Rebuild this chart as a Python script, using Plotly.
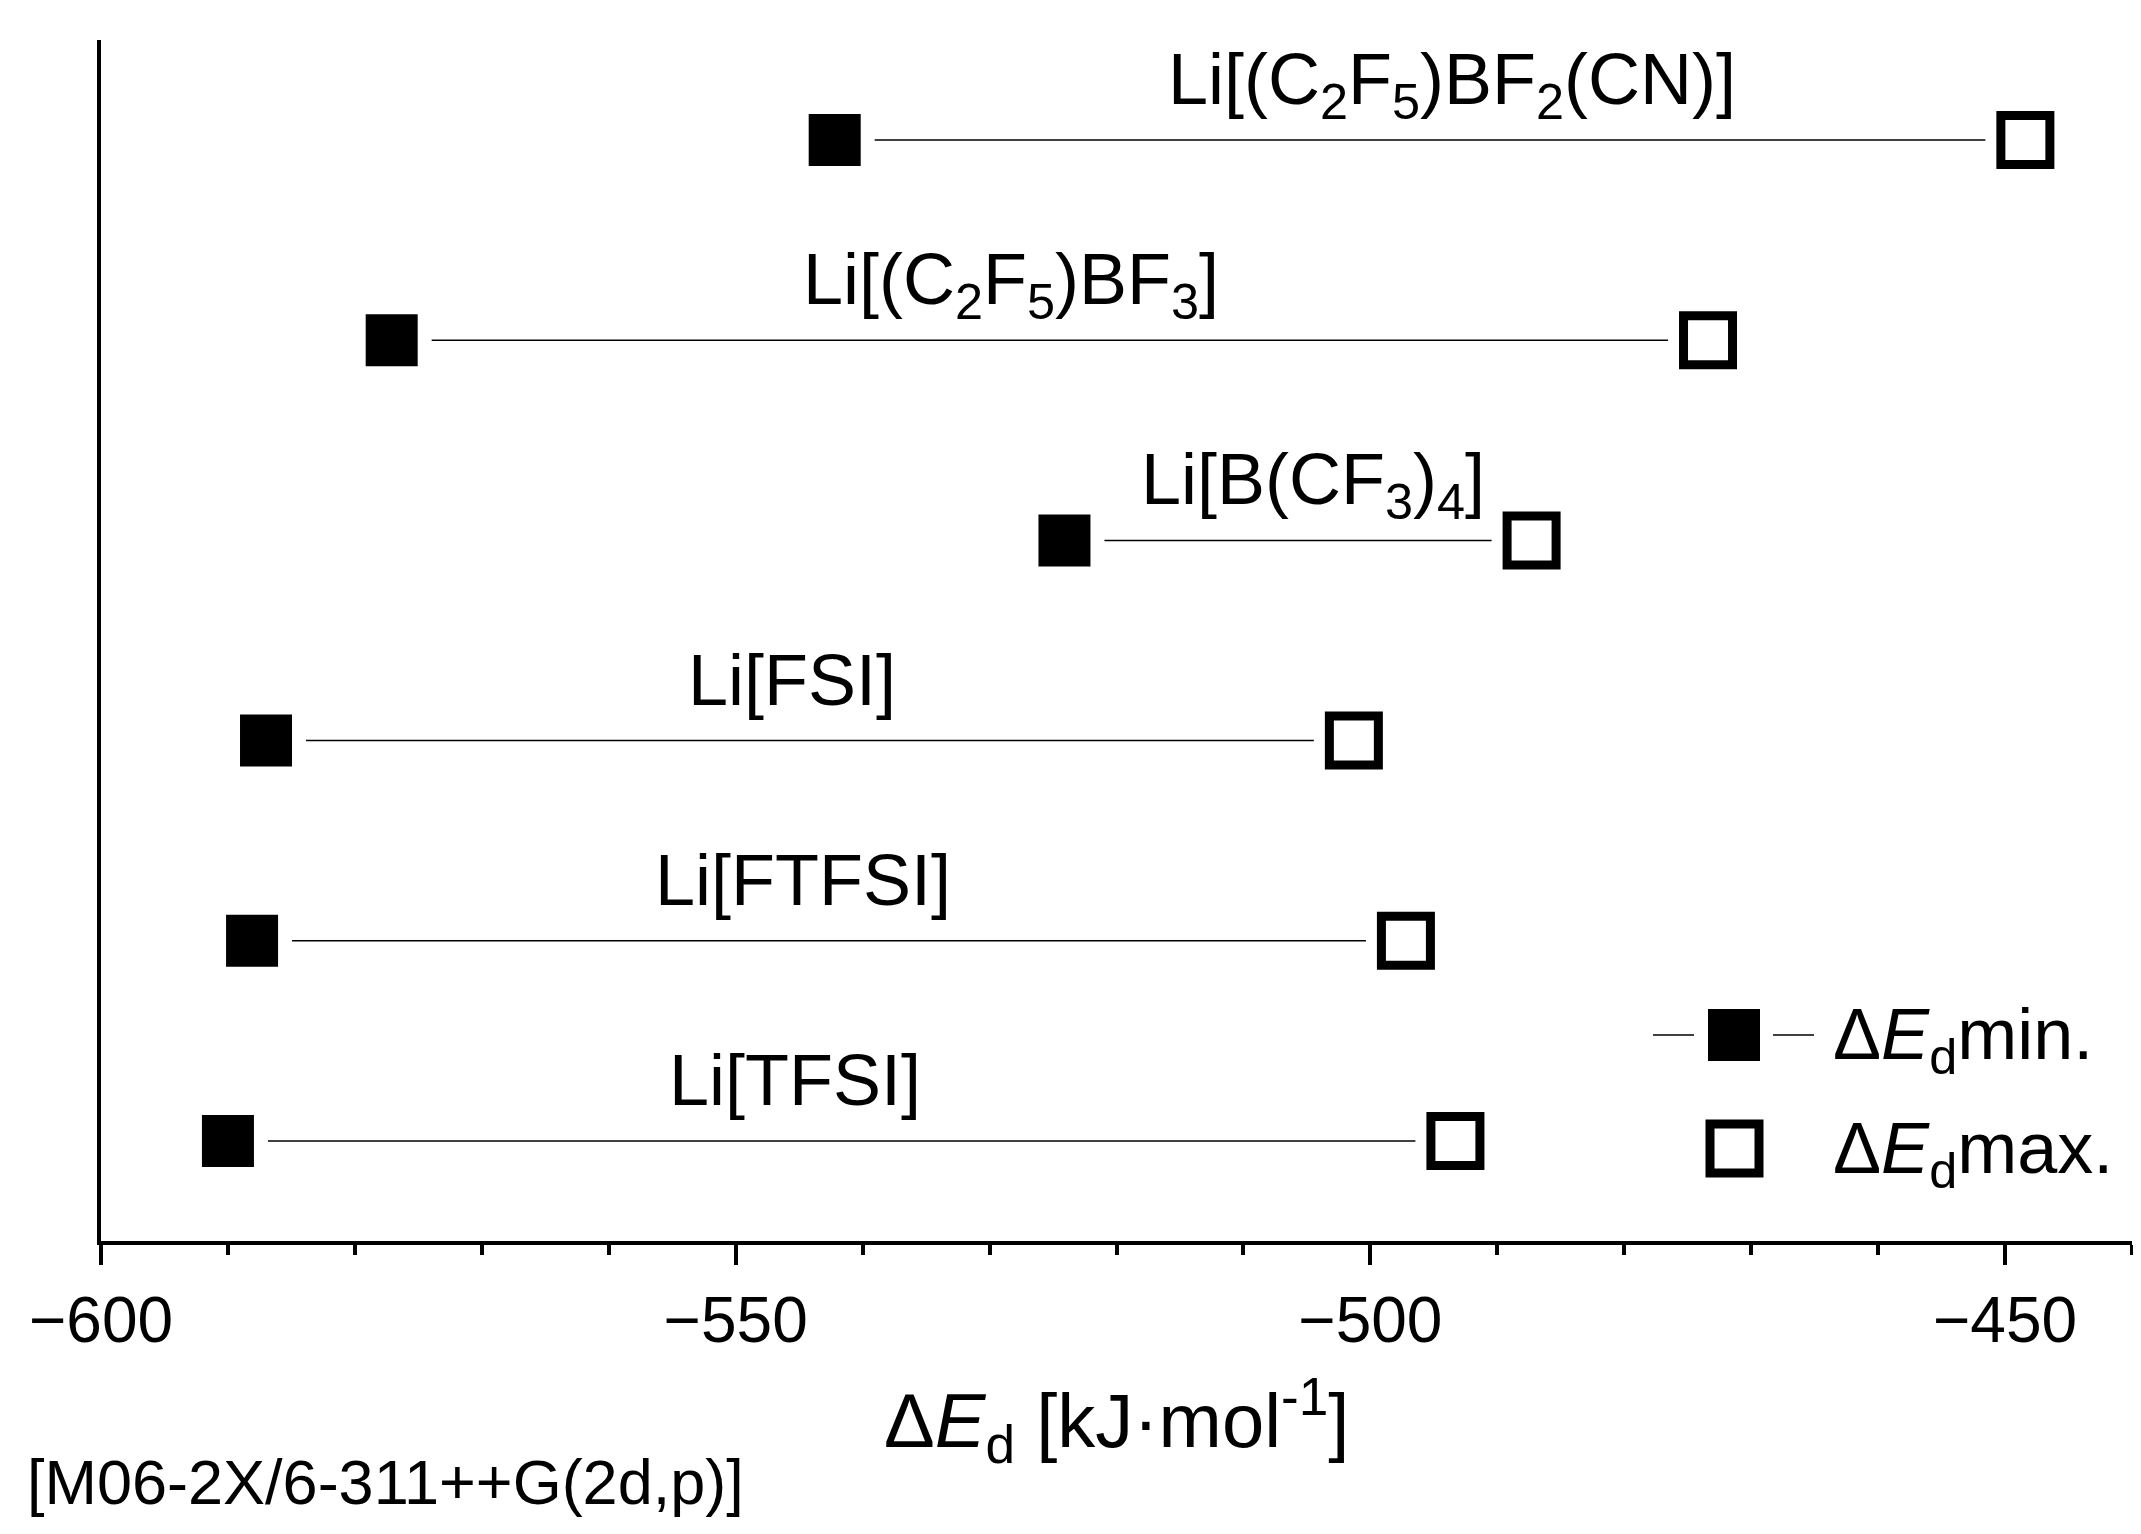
import plotly.graph_objects as go

# dissociation energies, kJ/mol (bottom row first)
salts = ["Li[TFSI]", "Li[FTFSI]", "Li[FSI]",
         "Li[B(CF<sub>3</sub>)<sub>4</sub>]",
         "Li[(C<sub>2</sub>F<sub>5</sub>)BF<sub>3</sub>]",
         "Li[(C<sub>2</sub>F<sub>5</sub>)BF<sub>2</sub>(CN)]"]
ed_min = [-590.0, -588.1, -587.0, -524.1, -577.1, -542.2]
ed_max = [-493.3, -497.2, -501.3, -487.3, -473.4, -448.4]

rows = list(range(1, len(salts) + 1))

# where the salt names sit (x, data units)
label_x = [-545.3, -544.7, -545.6, -504.5, -528.3, -493.6]

FONT = "Liberation Sans, Arial, sans-serif"
W, H = 2141, 1534
L, R, T, B = 93, 17, 32, 301
pw, ph = W - L - R, H - T - B


def px(x):
    return (x - L) / pw


def py(y):
    return (H - B - y) / ph


fig = go.Figure()

# thin connecting line per salt
lx, ly = [], []
for a, b, r in zip(ed_min, ed_max, rows):
    lx += [a, b, None]
    ly += [r, r, None]
fig.add_trace(go.Scatter(x=lx, y=ly, mode="lines",
                         line=dict(color="black", width=1.5), hoverinfo="skip"))
# white squares under the symbols -> small gap between line and symbol
fig.add_trace(go.Scatter(x=ed_min + ed_max, y=rows + rows, mode="markers",
                         marker=dict(symbol="square", size=80, color="white"),
                         hoverinfo="skip"))
fig.add_trace(go.Scatter(x=ed_min, y=rows, mode="markers", name="min",
                         marker=dict(symbol="square", size=52, color="black")))
fig.add_trace(go.Scatter(x=ed_max, y=rows, mode="markers", name="max",
                         marker=dict(symbol="square-open", size=49, color="black",
                                     line=dict(width=9, color="black"))))

for name, xl, r in zip(salts, label_x, rows):
    fig.add_annotation(x=xl, y=r, text=name, showarrow=False, xanchor="center",
                       yanchor="top", yshift=103, font=dict(size=72, color="black"))

# hand-made legend
fig.add_shape(type="line", xref="paper", yref="paper", x0=px(1645), x1=px(1686),
              y0=py(1027), y1=py(1027), line=dict(color="black", width=1.5))
fig.add_shape(type="line", xref="paper", yref="paper", x0=px(1765), x1=px(1806),
              y0=py(1027), y1=py(1027), line=dict(color="black", width=1.5))
fig.add_shape(type="rect", xref="paper", yref="paper", x0=px(1700), x1=px(1752),
              y0=py(1053), y1=py(1001), fillcolor="black", line=dict(width=0))
fig.add_shape(type="rect", xref="paper", yref="paper", x0=px(1702), x1=px(1751),
              y0=py(1165), y1=py(1116), fillcolor="white",
              line=dict(color="black", width=9))
fig.add_annotation(x=px(1823), y=py(1027), xref="paper", yref="paper",
                   text="Δ<i>E</i><sub>d</sub>min.", showarrow=False,
                   xanchor="left", yanchor="middle", yshift=-4,
                   font=dict(size=72, color="black"))
fig.add_annotation(x=px(1823), y=py(1141), xref="paper", yref="paper",
                   text="Δ<i>E</i><sub>d</sub>max.", showarrow=False,
                   xanchor="left", yanchor="middle", yshift=-4,
                   font=dict(size=72, color="black"))

# axis title and method note
fig.add_annotation(x=0.5, y=py(1412), xref="paper", yref="paper",
                   text="Δ<i>E</i><sub>d</sub> [kJ·mol<sup>-1</sup>]", showarrow=False,
                   xanchor="center", yanchor="middle", font=dict(size=76, color="black"))
fig.add_annotation(x=px(17), y=py(1474), xref="paper", yref="paper",
                   text="[M06-2X/6-311++G(2d,p)]", showarrow=False,
                   xanchor="left", yanchor="middle", font=dict(size=63, color="black"))

fig.update_xaxes(range=[-600, -440], tick0=-600, dtick=50, ticks="outside",
                 ticklen=20, tickwidth=4, tickcolor="black",
                 showline=True, linewidth=4, linecolor="black",
                 showgrid=False, zeroline=False,
                 tickfont=dict(size=64, color="black"),
                 minor=dict(dtick=10, ticks="outside", ticklen=10, tickwidth=4,
                            tickcolor="black", showgrid=False))
fig.update_yaxes(range=[0.5, 6.5], showline=True, linewidth=4, linecolor="black",
                 showticklabels=False, ticks="", showgrid=False, zeroline=False)

fig.update_layout(width=W, height=H, showlegend=False,
                  margin=dict(l=L, r=R, t=T, b=B),
                  paper_bgcolor="white", plot_bgcolor="white",
                  font=dict(family=FONT, color="black"))

fig.write_html("out.html")
